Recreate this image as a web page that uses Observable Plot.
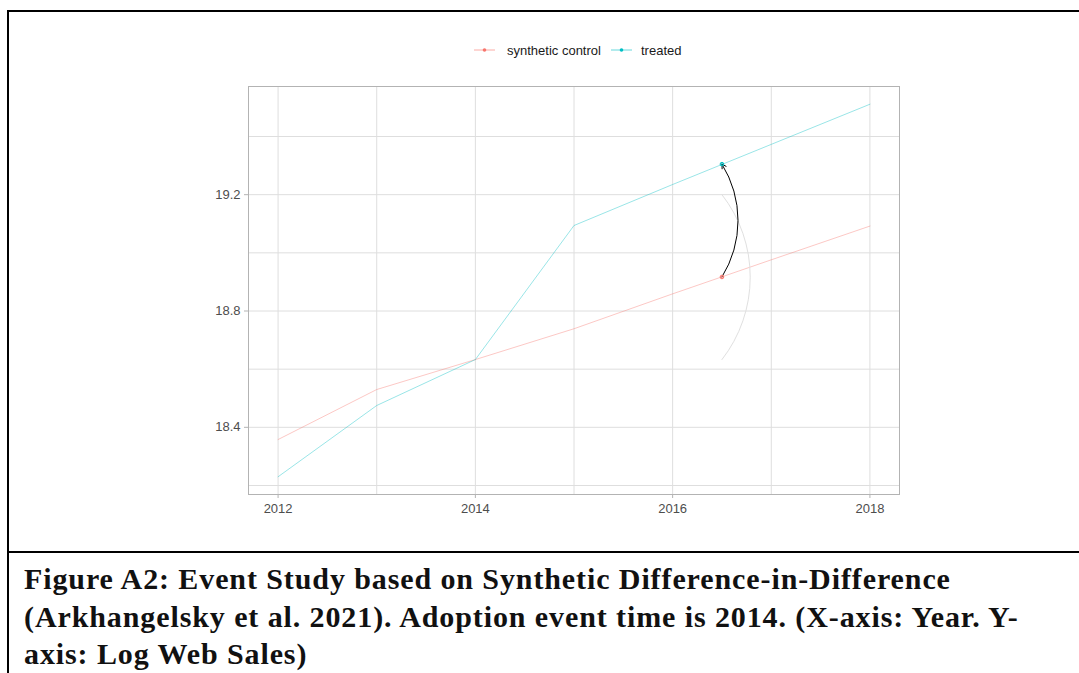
<!DOCTYPE html>
<html>
<head>
<meta charset="utf-8">
<script src="https://cdn.jsdelivr.net/npm/d3@7"></script>
<script src="https://cdn.jsdelivr.net/npm/@observablehq/plot@0.6"></script>
<style>
  html, body { margin: 0; padding: 0; background: #fff; overflow: hidden; width: 1079px; height: 673px; }
  #frame { position: absolute; left: 7px; top: 10px; width: 1100px; height: 700px; border-left: 2px solid #000; border-top: 2px solid #000; box-sizing: border-box; }
  #rule { position: absolute; left: 7px; top: 551px; width: 1100px; height: 2px; background: #000; }
  #legend { position: absolute; left: 0; top: 40px; width: 1079px; height: 20px; font-family: "Liberation Sans", Arial, sans-serif; font-size: 13px; color: #1a1a1a; }
  #legend .item { position: absolute; top: 0; display: flex; align-items: center; height: 20px; }
  #legend svg { margin-right: 12px; }
  #chart { position: absolute; left: 0; top: 70px; }
  #caption { position: absolute; left: 24px; top: 560px; font-family: "Liberation Serif", "Times New Roman", serif; font-weight: bold; font-size: 30px; letter-spacing: 0.9px; line-height: 37.5px; color: #111; white-space: nowrap; }
</style>
</head>
<body>
<div id="frame"></div>
<div id="rule"></div>
<div id="legend"></div>
<div id="chart"></div>
<div id="caption"></div>
<script>
// ---- data ----
const years = [2012, 2013, 2014, 2015, 2016, 2017, 2018];
const syntheticControl = [18.358, 18.530, 18.633, 18.739, 18.859, 18.976, 19.092];
const treated = [18.230, 18.475, 18.633, 19.094, 19.235, 19.373, 19.511];
const seriesNames = ["synthetic control", "treated"];
const seriesColors = ["#F8766D", "#00BFC4"];
const xTicks = [2012, 2014, 2016, 2018];
const yTicks = [18.4, 18.8, 19.2];
const yGrid = [18.2, 18.4, 18.6, 18.8, 19.0, 19.2, 19.4];
const eventYear = [2016.5];
const eventSynthetic = [18.917];
const eventTreated = [19.305];
const shadowFrom = [18.633];
const shadowTo = [19.200];
const captionLines = [
  "Figure A2: Event Study based on Synthetic Difference-in-Difference",
  "(Arkhangelsky et al. 2021). Adoption event time is 2014. (X-axis: Year. Y-",
  "axis: Log Web Sales)"
];

// ---- tables ----
const rows = [
  ...years.map((y, i) => ({year: y, value: syntheticControl[i], series: seriesNames[0]})),
  ...years.map((y, i) => ({year: y, value: treated[i], series: seriesNames[1]}))
];
const eventPoints = [
  {year: eventYear[0], value: eventSynthetic[0], series: seriesNames[0]},
  {year: eventYear[0], value: eventTreated[0], series: seriesNames[1]}
];
const effect = [{x: eventYear[0], from: eventSynthetic[0], to: eventTreated[0]}];
const shadow = [{x: eventYear[0], from: shadowFrom[0], to: shadowTo[0]}];

const chart = Plot.plot({
  width: 1079,
  height: 470,
  marginLeft: 248,
  marginRight: 180,
  marginTop: 16,
  marginBottom: 46,
  style: {fontFamily: "'Liberation Sans', Arial, sans-serif", fontSize: "13px", background: "transparent"},
  x: {domain: [2011.7, 2018.3]},
  y: {domain: [18.169, 19.572]},
  color: {domain: seriesNames, range: seriesColors},
  marks: [
    Plot.gridX(years, {stroke: "#dedede", strokeOpacity: 1, strokeWidth: 1}),
    Plot.gridY(yGrid, {stroke: "#dedede", strokeOpacity: 1, strokeWidth: 1}),
    Plot.frame({stroke: "#b3b3b3", strokeWidth: 1}),
    Plot.axisX(xTicks, {tickSize: 4, tickPadding: 5, stroke: "#b3b3b3", fill: "#4d4d4d", tickFormat: d => String(d), label: null}),
    Plot.axisY(yTicks, {tickSize: 4, tickPadding: 4, stroke: "#b3b3b3", fill: "#4d4d4d", tickFormat: d => d.toFixed(1), label: null}),
    Plot.line(rows, {x: "year", y: "value", z: "series", stroke: "series", strokeOpacity: 0.4, strokeWidth: 1}),
    Plot.arrow(shadow, {x1: "x", x2: "x", y1: "from", y2: "to", bend: -38, stroke: "#e0e0e0", strokeWidth: 1, headLength: 0}),
    Plot.arrow(effect, {x1: "x", x2: "x", y1: "from", y2: "to", bend: -32, stroke: "#000", strokeWidth: 1, headLength: 7}),
    Plot.dot(eventPoints, {x: "year", y: "value", stroke: "series", fill: "series", fillOpacity: 0.5, r: 1.8, strokeWidth: 1})
  ]
});
document.getElementById("chart").appendChild(chart);

// ---- legend ----
const legend = document.getElementById("legend");
const legendX = [474, 611];
seriesNames.forEach((name, i) => {
  const item = document.createElement("div");
  item.className = "item";
  item.style.left = legendX[i] + "px";
  item.innerHTML = `<svg width="21" height="20"><line x1="0" x2="21" y1="10" y2="10" stroke="${seriesColors[i]}" stroke-opacity="0.6" stroke-width="1"/><circle cx="10.5" cy="10" r="1.8" fill="${seriesColors[i]}"/></svg><span>${name}</span>`;
  if (i === 1) item.querySelector("svg").style.marginRight = "9px";
  legend.appendChild(item);
});

// ---- caption ----
document.getElementById("caption").innerHTML = captionLines.join("<br>");
</script>
</body>
</html>
